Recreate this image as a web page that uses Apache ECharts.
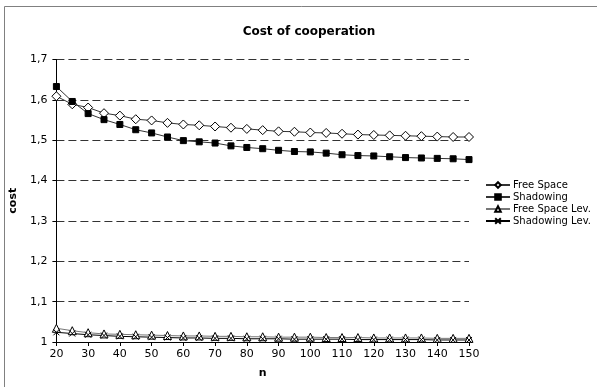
<!DOCTYPE html>
<html>
<head>
<meta charset="utf-8">
<script src="https://cdn.jsdelivr.net/npm/echarts@6/dist/echarts.min.js"></script>
<style>
  html, body { margin: 0; padding: 0; background: #fff; }
  #chart { width: 597px; height: 387px; }
</style>
</head>
<body>
<div id="chart"></div>
<script>
const nValues = [20, 25, 30, 35, 40, 45, 50, 55, 60, 65, 70, 75, 80, 85, 90, 95, 100,
  105, 110, 115, 120, 125, 130, 135, 140, 145, 150];

const freeSpace = [1.609, 1.589, 1.581, 1.567, 1.561, 1.552, 1.549, 1.543, 1.539, 1.537,
  1.534, 1.531, 1.528, 1.525, 1.522, 1.521, 1.519, 1.518, 1.516, 1.514, 1.513, 1.512,
  1.511, 1.510, 1.509, 1.508, 1.508];

const shadowing = [1.633, 1.596, 1.566, 1.551, 1.539, 1.526, 1.518, 1.508, 1.499, 1.496,
  1.493, 1.486, 1.482, 1.479, 1.475, 1.472, 1.471, 1.468, 1.464, 1.462, 1.461, 1.459,
  1.457, 1.456, 1.455, 1.454, 1.452];

const freeSpaceLev = [1.034, 1.028, 1.023, 1.020, 1.019, 1.018, 1.017, 1.016, 1.015, 1.015,
  1.014, 1.014, 1.013, 1.013, 1.012, 1.012, 1.012, 1.011, 1.011, 1.011, 1.010, 1.010,
  1.010, 1.010, 1.009, 1.009, 1.009];

const shadowingLev = [1.024, 1.021, 1.018, 1.016, 1.014, 1.013, 1.012, 1.011, 1.010, 1.010,
  1.009, 1.009, 1.008, 1.008, 1.008, 1.007, 1.007, 1.007, 1.007, 1.006, 1.006, 1.006,
  1.006, 1.006, 1.005, 1.005, 1.005];

const yTickLabels = ['1', '1,1', '1,2', '1,3', '1,4', '1,5', '1,6', '1,7'];

const FONT = 'DejaVu Sans, Verdana, sans-serif';

function pairs(values) {
  return nValues.map((n, i) => [n, values[i]]);
}

const chart = echarts.init(document.getElementById('chart'));

function makeSeries(name, values, symbol, symbolSize, lineColor, fill) {
  return {
    name: name,
    type: 'line',
    data: pairs(values),
    symbol: symbol,
    symbolSize: symbolSize,
    showAllSymbol: true,
    lineStyle: { color: lineColor, width: 1 },
    itemStyle: { color: fill, borderColor: '#000', borderWidth: 1 },
    emphasis: { disabled: true },
    animation: false,
  };
}

chart.setOption({
  backgroundColor: '#fff',
  animation: false,
  graphic: [
    {
      type: 'rect',
      shape: { x: 4.5, y: 6.5, width: 700, height: 500 },
      style: { fill: 'none', stroke: '#808080', lineWidth: 1 },
      silent: true,
    },
  ],
  title: {
    text: 'Cost of cooperation',
    left: 304,
    textAlign: 'center',
    top: 21,
    textStyle: { fontFamily: FONT, fontSize: 12, fontWeight: 'bold', color: '#000' },
  },
  legend: {
    orient: 'vertical',
    left: 480,
    top: 175,
    itemWidth: 24,
    itemHeight: 7,
    itemGap: 2,
    textStyle: { fontFamily: FONT, fontSize: 10, color: '#000', padding: [0, 0, 0, -2] },
    data: ['Free Space', 'Shadowing', 'Free Space Lev.', 'Shadowing Lev.'],
  },
  grid: { left: 55, right: 128, top: 59.5, bottom: 45, containLabel: false },
  xAxis: {
    type: 'value',
    min: 20,
    max: 150,
    interval: 10,
    name: 'n',
    nameLocation: 'middle',
    nameGap: 26,
    nameTextStyle: { fontFamily: FONT, fontSize: 11, fontWeight: 'bold', color: '#000' },
    axisLine: { lineStyle: { color: '#000', width: 1 } },
    axisTick: { show: true, length: 4, lineStyle: { color: '#000' } },
    axisLabel: { fontFamily: FONT, fontSize: 11, color: '#000', margin: 7 },
    splitLine: { show: false },
  },
  yAxis: {
    type: 'value',
    min: 1,
    max: 1.7,
    interval: 0.1,
    name: 'cost',
    nameLocation: 'middle',
    nameRotate: 90,
    nameGap: 27,
    nameTextStyle: { fontFamily: FONT, fontSize: 11, fontWeight: 'bold', color: '#000' },
    axisLine: { show: true, lineStyle: { color: '#000', width: 1 } },
    axisTick: { show: true, length: 4, lineStyle: { color: '#000' } },
    axisLabel: {
      fontFamily: FONT,
      fontSize: 11,
      color: '#000',
      margin: 9,
      formatter: (v) => yTickLabels[Math.round((v - 1) * 10)],
    },
    splitLine: { show: true, lineStyle: { color: '#333', type: [8, 4], width: 1 } },
  },
  series: [
    makeSeries('Free Space', freeSpace, 'diamond', 9, '#333', '#fff'),
    makeSeries('Shadowing', shadowing, 'rect', 6, '#333', '#000'),
    makeSeries('Free Space Lev.', freeSpaceLev, 'triangle', 8, '#777', '#fff'),
    makeSeries('Shadowing Lev.', shadowingLev, 'path://M0,0L10,10M10,0L0,10', 6, '#000', '#000'),
  ],
});
</script>
</body>
</html>
